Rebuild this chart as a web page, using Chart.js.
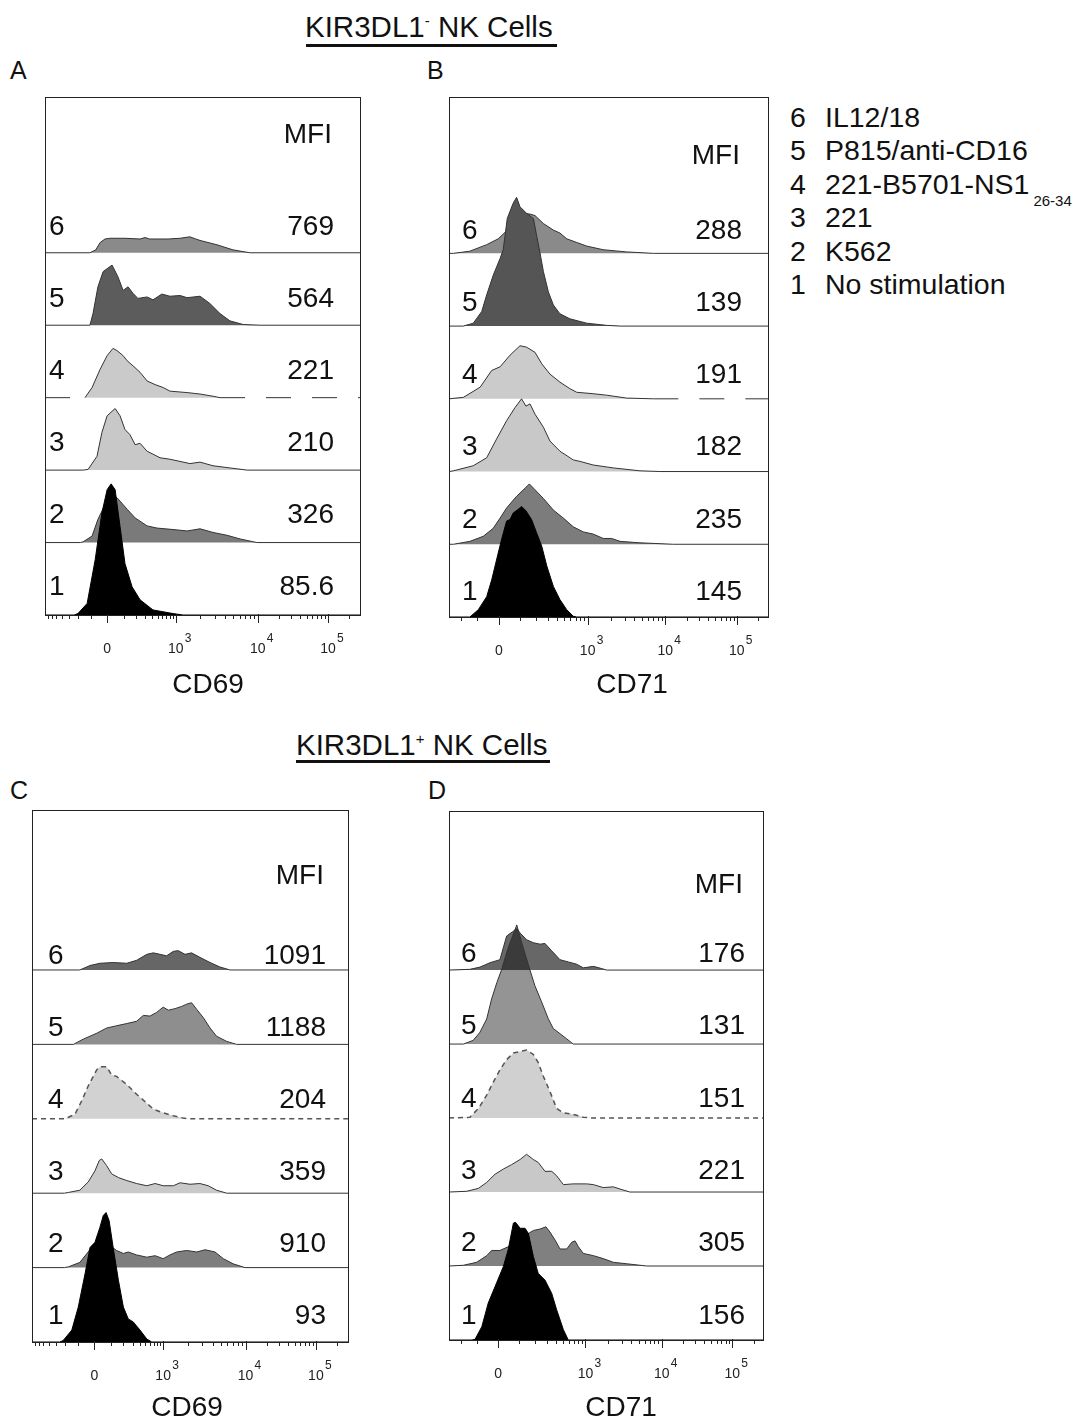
<!DOCTYPE html>
<html>
<head>
<meta charset="utf-8">
<script src="https://cdn.jsdelivr.net/npm/chart.js@4.4.1/dist/chart.umd.min.js"></script>
<style>
  body { margin: 0; background: #fff; width: 1084px; height: 1423px; overflow: hidden; position: relative;
         font-family: "Liberation Sans", Arial, sans-serif; color: #111; }
  .t { position: absolute; white-space: nowrap; line-height: 1; }
  canvas { position: absolute; }
  .rule { position: absolute; height: 3px; background: #111; }
</style>
</head>
<body>
<div class="t" style="left:305px;top:12px;font-size:29.5px">KIR3DL1<span style="font-size:15px;position:relative;top:-11px">-</span> NK Cells</div>
<div class="rule" style="left:306px;top:44px;width:251px"></div>
<div class="t" style="left:296px;top:730px;font-size:29.5px">KIR3DL1<span style="font-size:15px;position:relative;top:-11px">+</span> NK Cells</div>
<div class="rule" style="left:296px;top:760px;width:254px"></div>
<div class="t" style="left:10px;top:58px;font-size:25px">A</div>
<div class="t" style="left:427px;top:58px;font-size:25px">B</div>
<div class="t" style="left:10px;top:778px;font-size:25px">C</div>
<div class="t" style="left:428px;top:778px;font-size:25px">D</div>

<script>
// conditions, lane 1 (bottom) to lane 6 (top)
const conditions = ['No stimulation', 'K562', '221', '221-B5701-NS1', 'P815/anti-CD16', 'IL12/18'];
const conditionSub = ['', '', '', '26-34', '', ''];

// x axis in channels 0..1024, tick channels per marker
const tickLabels = ['0', '10^3', '10^4', '10^5'];
const ticksCD69 = [202, 425, 692, 920];
const ticksCD71 = [160, 445, 694, 924];

// MFI values, lane 1 to 6
const mfiA = ['85.6', '326', '210', '221', '564', '769'];
const mfiB = ['145', '235', '182', '191', '139', '288'];
const mfiC = ['93', '910', '359', '204', '1188', '1091'];
const mfiD = ['156', '305', '221', '151', '131', '176'];

// histograms: [channel, height in lane units]
// A: KIR3DL1- CD69
const a1 = [[95,0],[107,0.02],[137,0.16],[163,0.76],[185,1.41],[202,1.73],[215,1.81],[228,1.73],[244,1.22],[260,0.71],[283,0.39],[309,0.21],[351,0.07],[416,0.02],[449,0]];
const a2 = [[115,0],[124,0.01],[153,0.09],[172,0.32],[202,0.58],[222,0.64],[234,0.62],[267,0.46],[293,0.34],[332,0.23],[364,0.2],[416,0.18],[462,0.16],[504,0.19],[546,0.14],[592,0.1],[634,0.05],[689,0]];
const a3 = [[125,0],[140,0.01],[169,0.19],[185,0.52],[202,0.75],[228,0.85],[244,0.75],[260,0.56],[276,0.49],[293,0.35],[309,0.37],[332,0.26],[351,0.22],[374,0.17],[406,0.15],[439,0.12],[471,0.09],[504,0.11],[546,0.06],[601,0.03],[657,0]];
const a4 = [[130,0],[153,0.14],[179,0.39],[202,0.58],[221,0.68],[234,0.65],[254,0.58],[267,0.51],[286,0.44],[309,0.35],[332,0.23],[358,0.18],[384,0.14],[406,0.09],[462,0.07],[504,0.05],[546,0.02],[569,0]];
const a5 = [[146,0],[156,0.16],[172,0.53],[189,0.74],[218,0.83],[237,0.67],[254,0.48],[270,0.53],[286,0.44],[302,0.37],[332,0.39],[351,0.35],[380,0.43],[406,0.4],[439,0.41],[462,0.38],[504,0.4],[536,0.3],[569,0.16],[601,0.06],[644,0.01],[699,0]];
const a6 = [[146,0],[165,0.04],[179,0.14],[195,0.19],[211,0.2],[260,0.2],[309,0.19],[325,0.21],[340,0.19],[400,0.19],[439,0.2],[471,0.22],[490,0.19],[504,0.17],[559,0.11],[611,0.04],[666,0]];
// B: KIR3DL1- CD71
const b1 = [[67,0],[94,0.1],[121,0.28],[137,0.51],[158,0.88],[169,1.07],[185,1.32],[196,1.34],[206,1.43],[222,1.48],[233,1.52],[247,1.46],[265,1.34],[281,1.16],[298,0.97],[314,0.7],[335,0.42],[356,0.24],[378,0.1],[399,0.01],[410,0]];
const b2 = [[14,0],[67,0.04],[110,0.11],[142,0.22],[164,0.36],[185,0.5],[217,0.66],[244,0.77],[258,0.83],[276,0.75],[303,0.63],[335,0.47],[367,0.36],[399,0.24],[431,0.17],[463,0.14],[495,0.08],[522,0.08],[549,0.04],[613,0.02],[720,0]];
const b3 = [[14,0.01],[78,0.08],[121,0.19],[153,0.45],[185,0.7],[212,0.88],[233,1.0],[247,0.9],[260,0.93],[276,0.79],[303,0.61],[324,0.42],[356,0.28],[399,0.16],[420,0.14],[463,0.09],[527,0.05],[613,0.01],[677,0]];
const b4 = [[46,0.02],[100,0.16],[137,0.39],[164,0.44],[196,0.6],[228,0.73],[249,0.71],[276,0.64],[298,0.48],[324,0.34],[356,0.23],[388,0.14],[410,0.09],[463,0.07],[506,0.05],[570,0.01],[656,0]];
const b5 = [[46,0],[78,0.04],[105,0.2],[121,0.43],[142,0.7],[164,0.93],[174,1.05],[187,1.48],[206,1.69],[217,1.77],[228,1.64],[249,1.55],[271,1.48],[281,1.25],[292,1.01],[303,0.75],[319,0.47],[335,0.29],[356,0.17],[388,0.1],[442,0.04],[506,0.01],[549,0]];
const b6 = [[14,0],[67,0.03],[121,0.12],[158,0.2],[185,0.31],[217,0.56],[260,0.54],[276,0.52],[303,0.41],[335,0.32],[356,0.28],[378,0.2],[410,0.15],[442,0.1],[495,0.05],[570,0.02],[656,0]];
// C: KIR3DL1+ CD69
const c1 = [[90,0],[101,0.02],[129,0.16],[150,0.47],[172,0.92],[188,1.27],[204,1.34],[220,1.54],[231,1.7],[240,1.74],[250,1.63],[263,1.27],[280,0.83],[296,0.47],[312,0.31],[328,0.27],[350,0.16],[372,0.04],[388,0]];
const c2 = [[105,0],[118,0.01],[155,0.07],[182,0.21],[199,0.3],[226,0.34],[258,0.28],[274,0.23],[296,0.19],[312,0.21],[339,0.17],[372,0.14],[399,0.16],[425,0.12],[447,0.17],[469,0.21],[501,0.23],[534,0.21],[561,0.24],[593,0.21],[620,0.12],[652,0.05],[690,0]];
const c3 = [[105,0],[118,0.01],[155,0.04],[182,0.15],[204,0.3],[218,0.44],[226,0.46],[242,0.37],[258,0.26],[280,0.21],[307,0.17],[339,0.13],[372,0.1],[399,0.13],[425,0.1],[458,0.1],[480,0.14],[512,0.12],[544,0.13],[571,0.1],[598,0.04],[631,0]];
const c4 = [[107,0],[139,0.06],[161,0.24],[182,0.44],[210,0.66],[220,0.7],[242,0.7],[258,0.59],[274,0.57],[307,0.46],[339,0.33],[372,0.21],[393,0.13],[425,0.08],[458,0.04],[490,0.01],[510,0]];
const c5 = [[134,0],[166,0.07],[210,0.15],[242,0.22],[274,0.25],[307,0.28],[339,0.31],[361,0.39],[382,0.38],[404,0.43],[425,0.5],[442,0.46],[463,0.48],[485,0.51],[501,0.54],[517,0.56],[534,0.47],[555,0.36],[577,0.22],[598,0.11],[631,0.04],[663,0]];
const c6 = [[155,0],[188,0.06],[220,0.09],[263,0.1],[307,0.09],[339,0.13],[372,0.21],[393,0.23],[415,0.21],[436,0.19],[458,0.25],[474,0.26],[496,0.21],[517,0.23],[544,0.17],[577,0.1],[609,0.04],[642,0]];
// D: KIR3DL1+ CD71
const d1 = [[75,0],[85,0.01],[107,0.18],[128,0.5],[150,0.72],[177,0.99],[193,1.22],[210,1.58],[217,1.59],[232,1.51],[248,1.51],[259,1.44],[275,1.13],[291,0.9],[313,0.81],[335,0.63],[351,0.41],[373,0.14],[389,0]];
const d2 = [[47,0.01],[90,0.05],[123,0.14],[139,0.21],[166,0.21],[193,0.26],[232,0.37],[275,0.48],[297,0.5],[316,0.53],[329,0.46],[346,0.35],[362,0.23],[384,0.23],[400,0.32],[411,0.34],[422,0.26],[438,0.17],[471,0.14],[503,0.1],[536,0.05],[580,0.03],[645,0]];
const d3 = [[58,0.01],[96,0.05],[123,0.13],[150,0.24],[177,0.31],[204,0.37],[232,0.44],[253,0.51],[275,0.44],[291,0.4],[313,0.28],[335,0.28],[351,0.22],[373,0.1],[405,0.11],[449,0.11],[471,0.1],[503,0.06],[536,0.07],[558,0.04],[590,0]];
const d4 = [[68,0.01],[96,0.13],[123,0.31],[145,0.49],[166,0.65],[188,0.79],[210,0.88],[232,0.9],[253,0.92],[275,0.86],[291,0.75],[308,0.56],[329,0.36],[351,0.13],[373,0.07],[405,0.05],[438,0.01],[470,0]];
const d5 = [[47,0],[79,0.05],[101,0.16],[123,0.34],[139,0.61],[156,0.83],[172,1.01],[193,1.3],[221,1.61],[237,1.37],[253,1.15],[264,1.0],[280,0.79],[302,0.57],[324,0.34],[340,0.21],[362,0.14],[384,0.07],[405,0]];
const d6 = [[68,0.01],[101,0.04],[134,0.1],[166,0.14],[188,0.46],[208,0.52],[221,0.56],[232,0.5],[253,0.41],[275,0.37],[297,0.35],[313,0.36],[335,0.26],[362,0.14],[389,0.11],[416,0.08],[438,0.03],[471,0.05],[498,0.02],[514,0]];

const FONT = '"Liberation Sans", Arial, sans-serif';

// panel layout: box = [left, top, right, bottom] in page pixels
const panels = [
  { box: [45, 97, 360, 615], marker: 'CD69', ticks: ticksCD69, mfi: mfiA, hist: [a1, a2, a3, a4, a5, a6],
    fills: ['#000', '#7a7a7a', '#c8c8c8', '#cacaca', '#5c5c5c', '#8a8a8a'], dashed: false,
    numX: 4, mfiRight: 26, lab6: 25, lab1: 28, mfiHead: 117, titleDx: 163, titleDy: 70 },
  { box: [449, 97, 768, 617], marker: 'CD71', ticks: ticksCD71, mfi: mfiB, hist: [b1, b2, b3, b4, b5, b6],
    fills: ['#000', '#7c7c7c', '#c8c8c8', '#cbcbcb', '#555555', '#8a8a8a'], dashed: false,
    numX: 13, mfiRight: 26, lab6: 22, lab1: 25, mfiHead: 97, titleDx: 183, titleDy: 68 },
  { box: [32, 810, 348, 1342], marker: 'CD69', ticks: ticksCD69, mfi: mfiC, hist: [c1, c2, c3, c4, c5, c6],
    fills: ['#000', '#7e7e7e', '#c9c9c9', '#d2d2d2', '#8e8e8e', '#666666'], dashed: true,
    numX: 16, mfiRight: 22, lab6: 14, lab1: 26, mfiHead: 94, titleDx: 155, titleDy: 66 },
  { box: [449, 811, 763, 1340], marker: 'CD71', ticks: ticksCD71, mfi: mfiD, hist: [d1, d2, d3, d4, d5, d6],
    fills: ['#000', '#808080', '#c8c8c8', '#d0d0d0', 'rgba(0,0,0,0.42)', '#676767'], dashed: true,
    numX: 12, mfiRight: 18, lab6: 16, lab1: 24, mfiHead: 85, titleDx: 172, titleDy: 68 }
];

const pad = { left: 20, right: 20, top: 10, bottom: 85 };

function minorTicks(T) {
  const out = [];
  const w = 150, s = Math.asinh(1000 / w);
  for (let k = 1; k < 10; k++) {
    const f = Math.asinh(k * 100 / w) / s;
    out.push(T[0] + f * (T[1] - T[0]), T[0] - f * (T[1] - T[0]));
  }
  for (let i = 1; i < 3; i++) {
    for (let k = 2; k < 10; k++) out.push(T[i] + Math.log10(k) * (T[i + 1] - T[i]));
  }
  for (let k = 2; k < 10; k++) out.push(T[3] + Math.log10(k) * (T[3] - T[2]));
  return out.filter(v => v > 2 && v < 1022);
}

function makeDecor(p) {
  return {
    id: 'decor',
    afterDraw(chart) {
      const { ctx, chartArea: a, scales: { x, y } } = chart;
      ctx.save();
      // frame
      ctx.strokeStyle = '#222';
      ctx.lineWidth = 1;
      ctx.strokeRect(a.left + 0.5, a.top + 0.5, a.right - a.left, a.bottom - a.top);

      // ticks
      ctx.beginPath();
      p.ticks.forEach(v => {
        const px = Math.round(x.getPixelForValue(v)) + 0.5;
        ctx.moveTo(px, a.bottom - 1);
        ctx.lineTo(px, a.bottom + 8);
      });
      minorTicks(p.ticks).forEach(v => {
        const px = Math.round(x.getPixelForValue(v)) + 0.5;
        ctx.moveTo(px, a.bottom);
        ctx.lineTo(px, a.bottom + 4);
      });
      ctx.stroke();

      // tick labels
      ctx.fillStyle = '#222';
      ctx.textBaseline = 'middle';
      tickLabels.forEach((lab, i) => {
        const px = x.getPixelForValue(p.ticks[i]);
        const [b, e] = lab.split('^');
        ctx.font = '14px ' + FONT;
        ctx.textAlign = 'center';
        ctx.fillText(b, px, a.bottom + 34);
        if (e) {
          ctx.font = '12px ' + FONT;
          ctx.textAlign = 'left';
          ctx.fillText(e, px + 9, a.bottom + 24);
        }
      });

      // lane numbers and MFI values
      ctx.fillStyle = '#111';
      ctx.font = '28px ' + FONT;
      for (let k = 0; k < 6; k++) {
        const base = y.getPixelForValue(k);
        const off = p.lab6 + (p.lab1 - p.lab6) * (5 - k) / 5;
        ctx.textAlign = 'left';
        ctx.fillText(String(k + 1), a.left + p.numX, base - off);
        ctx.textAlign = 'right';
        ctx.fillText(p.mfi[k], a.right - p.mfiRight, base - off);
      }
      ctx.textAlign = 'right';
      ctx.fillText('MFI', a.right - p.mfiRight - 2, y.getPixelForValue(5) - p.mfiHead);

      // axis title
      ctx.textAlign = 'center';
      ctx.fillText(p.marker, a.left + p.titleDx, a.bottom + p.titleDy);
      ctx.restore();
    }
  };
}

panels.forEach(p => {
  const [l, t, r, b] = p.box;
  const W = r - l + pad.left + pad.right;
  const H = b - t + pad.top + pad.bottom;
  const cv = document.createElement('canvas');
  cv.width = W; cv.height = H;
  cv.style.left = (l - pad.left) + 'px';
  cv.style.top = (t - pad.top) + 'px';
  cv.style.width = W + 'px';
  cv.style.height = H + 'px';
  document.body.appendChild(cv);

  const datasets = p.hist.map((h, i) => {
    const ds = {
      data: [{ x: 0, y: i }, ...h.map(([cx, v]) => ({ x: cx, y: i + v })), { x: 1024, y: i }],
      fill: { value: i },
      backgroundColor: p.fills[i],
      borderColor: i === 0 ? '#000' : '#333',
      borderWidth: 1,
      pointRadius: 0,
      tension: 0
    };
    if (i === 3) {
      if (p.dashed) {
        ds.borderDash = [5, 4];
        ds.borderWidth = 1.5;
        ds.borderColor = '#555';
      } else {
        ds.segment = {
          borderDash: c => (c.p0.parsed.y === 3 && c.p1.parsed.y === 3) ? [25, 21] : undefined
        };
      }
    }
    return ds;
  });

  new Chart(cv, {
    type: 'line',
    data: { datasets },
    options: {
      responsive: false,
      animation: false,
      devicePixelRatio: 1,
      events: [],
      layout: { padding: pad },
      plugins: { legend: { display: false }, tooltip: { enabled: false } },
      scales: {
        x: { type: 'linear', min: 0, max: 1024, display: false },
        y: { min: 0, max: 7.15, display: false }
      }
    },
    plugins: [makeDecor(p)]
  });
});

// legend on the right
for (let k = 5; k >= 0; k--) {
  const cy = 117 + (5 - k) * 33.4;
  const n = document.createElement('div');
  n.className = 't';
  n.style.cssText = `left:790px;top:${cy - 14}px;font-size:28.5px`;
  n.textContent = String(k + 1);
  document.body.appendChild(n);
  const d = document.createElement('div');
  d.className = 't';
  d.style.cssText = `left:825px;top:${cy - 14}px;font-size:28.5px`;
  d.textContent = conditions[k];
  if (conditionSub[k]) {
    const s = document.createElement('span');
    s.style.cssText = 'font-size:15px;position:relative;top:12px;margin-left:4px';
    s.textContent = conditionSub[k];
    d.appendChild(s);
  }
  document.body.appendChild(d);
}
</script>
</body>
</html>
